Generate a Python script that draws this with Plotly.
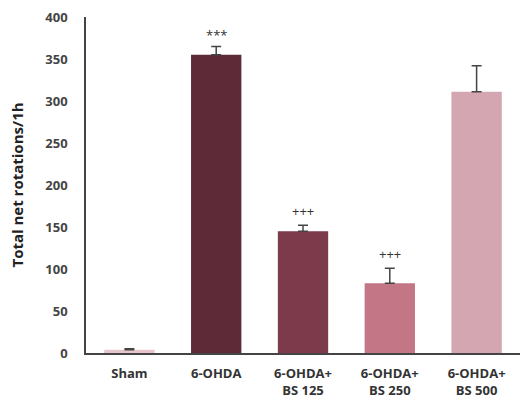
import plotly.graph_objects as go

categories = ["Sham", "6-OHDA", "6-OHDA+<br>BS 125", "6-OHDA+<br>BS 250", "6-OHDA+<br>BS 500"]
values = [4, 355, 145, 83, 311]
errors = [1, 10, 7, 18, 31]
significance = ["", "***", "+++", "+++", ""]
colors = ["#E6C6CC", "#5E2A37", "#7D3A4B", "#C27686", "#D4A6B1"]
y_ticks = [0, 50, 100, 150, 200, 250, 300, 350, 400]

fig = go.Figure()
fig.add_trace(go.Bar(
    x=categories, y=values,
    marker=dict(color=colors, line=dict(width=0)),
    error_y=dict(type="data", array=errors, arrayminus=[0]*5, symmetric=False,
                 color="#444444", thickness=1.5, width=5),
    width=0.58,
))
for c, v, e, s in zip(categories, values, errors, significance):
    if s:
        fig.add_annotation(x=c, y=v + e, text=s, showarrow=False,
                           yshift=11 if s == "***" else 14,
                           font=dict(size=13, color="#333333", family="Open Sans"))

fig.update_layout(
    width=520, height=400,
    margin=dict(l=86, r=0, t=17, b=47),
    plot_bgcolor="white", paper_bgcolor="white",
    showlegend=False,
    font=dict(family="Open Sans", size=12, color="#333333"),
)
fig.update_xaxes(showline=True, linecolor="#444444", linewidth=1.5, ticks="",
                 tickfont=dict(size=13, family="Open Sans", color="#333333", weight="bold"),
                 showgrid=False, ticklabelstandoff=8)
fig.update_yaxes(range=[0, 400], tickvals=y_ticks, showline=True, linecolor="#444444",
                 linewidth=1.5, ticks="", showgrid=False, zeroline=False,
                 ticklabelstandoff=14,
                 tickfont=dict(size=13, family="Open Sans", color="#444444", weight="bold"),
                 title=dict(text="Total net rotations/1h", standoff=18,
                            font=dict(size=15, family="Open Sans", color="#222222", weight="bold")))
fig.write_html("out.html", config={"displayModeBar": False},
               post_script="document.body.style.margin='0';document.body.style.overflow='hidden';")
